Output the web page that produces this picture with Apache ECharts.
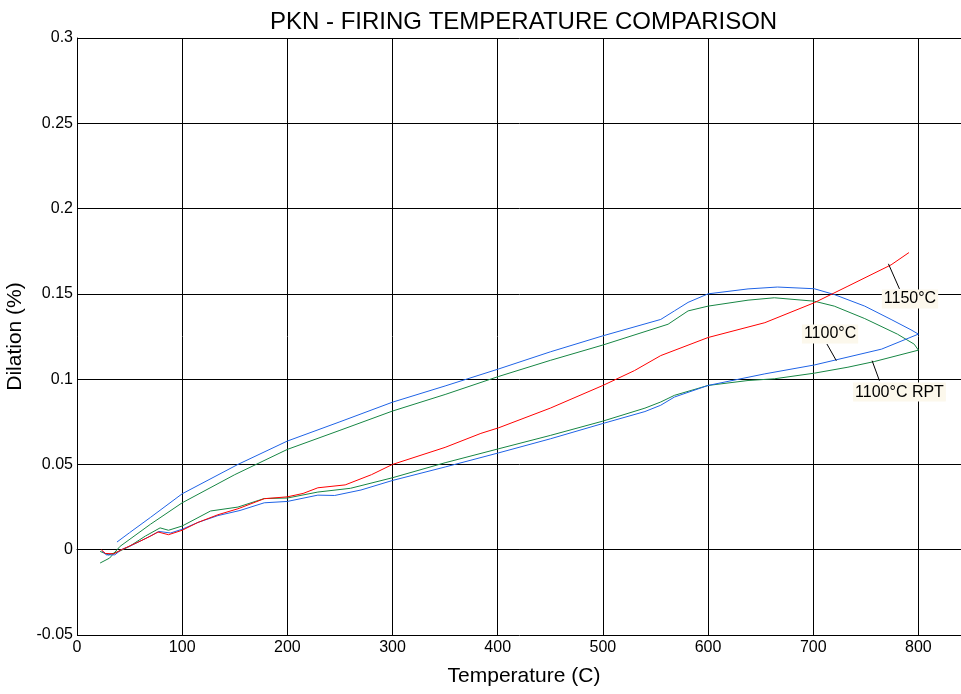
<!DOCTYPE html>
<html>
<head>
<meta charset="utf-8">
<script src="https://cdn.jsdelivr.net/npm/echarts@6/dist/echarts.min.js"></script>
<style>
  html, body { margin: 0; padding: 0; background: #fff; overflow: hidden; }
  #chart { width: 961px; height: 694px; }
</style>
</head>
<body>
<div id="chart"></div>
<script>
// [temperature C, dilation %]
const red1150 = [
  [23, 0], [27, -0.0022], [35, -0.0024], [41, -0.0004], [48, 0.0016], [60, 0.005], [70, 0.008],
  [77, 0.0104], [87, 0.0088], [100, 0.0114], [115, 0.016], [134, 0.0205], [153, 0.024], [170, 0.028],
  [178, 0.0299], [200, 0.031], [215, 0.033], [229, 0.0363], [255, 0.038], [280, 0.044], [300, 0.05],
  [350, 0.06], [384, 0.0682], [401, 0.0715], [450, 0.083], [500, 0.0963], [530, 0.105], [555, 0.1138],
  [600, 0.1244], [654, 0.1331], [701, 0.1448], [733, 0.1545], [774, 0.167], [791, 0.1742]
];
const blueHeat = [
  [24, -0.001], [28, -0.003], [36, -0.003], [42, 0], [50, 0.002], [65, 0.0065], [78, 0.0107],
  [89, 0.0098], [100, 0.012], [115, 0.016], [134, 0.02], [155, 0.023], [178, 0.0275], [200, 0.0283],
  [229, 0.032], [245, 0.0318], [270, 0.035], [300, 0.0406], [350, 0.0485], [401, 0.0568], [450, 0.065],
  [500, 0.074], [540, 0.081], [555, 0.0847], [568, 0.0895], [600, 0.0963], [654, 0.1031], [701, 0.1083],
  [765, 0.1176], [800, 0.1264]
];
const blueCool = [
  [800, 0.1264], [793, 0.1289], [774, 0.135], [749, 0.1428], [720, 0.1496], [701, 0.153], [666, 0.154],
  [638, 0.1529], [600, 0.15], [581, 0.145], [568, 0.14], [555, 0.135], [500, 0.1254], [450, 0.116],
  [401, 0.106], [350, 0.096], [300, 0.0865], [250, 0.075], [200, 0.0637], [153, 0.05], [100, 0.0328],
  [70, 0.019], [50, 0.01], [38, 0.0045]
];
const greenHeat = [
  [22, -0.001], [30, -0.003], [40, -0.001], [50, 0.002], [65, 0.008], [79, 0.0128], [87, 0.0114],
  [100, 0.0139], [127, 0.0227], [153, 0.025], [178, 0.03], [200, 0.0303], [229, 0.0338], [260, 0.036],
  [300, 0.0422], [350, 0.051], [401, 0.0592], [450, 0.067], [500, 0.0754], [540, 0.083], [555, 0.0866],
  [568, 0.0905], [600, 0.0963], [638, 0.0992], [663, 0.1002], [701, 0.1035], [733, 0.107], [758, 0.1103],
  [800, 0.117]
];
const greenCool = [
  [800, 0.1176], [796, 0.1205], [780, 0.1264], [749, 0.1355], [720, 0.1428], [701, 0.1457], [663, 0.1477],
  [638, 0.1463], [600, 0.1428], [581, 0.14], [562, 0.1322], [500, 0.12], [450, 0.111], [401, 0.1016],
  [350, 0.091], [300, 0.0813], [250, 0.07], [200, 0.0588], [150, 0.044], [100, 0.0275], [70, 0.015],
  [41, 0.002], [31, -0.0049], [22, -0.0078]
];

// annotation text, where it sits, and its leader (data coords)
const labelNames = ['1150°C', '1100°C', '1100°C RPT'];
const labelAt = [[792, 0.147], [716, 0.1265], [782, 0.0924]];
const leaderFrom = [[771.5, 0.1676], [722, 0.1108], [756, 0.1108]];
const leaderTo = [[782, 0.1529], [713, 0.1206], [763, 0.099]];

const chart = echarts.init(document.getElementById('chart'));

const font = 'Arial, "Liberation Sans", sans-serif';

function note(i) {
  return {
    markPoint: {
      symbol: 'rect',
      symbolSize: 0,
      silent: true,
      data: [{ name: labelNames[i], coord: labelAt[i] }],
      label: {
        show: true,
        position: 'inside',
        formatter: '{b}',
        color: '#000',
        fontFamily: font,
        fontSize: 16,
        backgroundColor: '#fcf8ec',
        padding: [2, 2, 1, 2]
      }
    },
    markLine: {
      symbol: 'none',
      silent: true,
      label: { show: false },
      lineStyle: { color: '#000', width: 1, type: 'solid' },
      data: [[{ coord: leaderFrom[i] }, { coord: leaderTo[i] }]]
    }
  };
}

function curve(data, color, extra) {
  return Object.assign({
    type: 'line',
    data: data,
    showSymbol: false,
    symbol: 'none',
    lineStyle: { color: color, width: 1 },
    itemStyle: { color: color },
    emphasis: { disabled: true }
  }, extra || {});
}

const blue = '#1f63e6';
const green = '#178644';

const option = {
  animation: false,
  title: {
    text: 'PKN - FIRING TEMPERATURE COMPARISON',
    left: 265,
    top: 5,
    textStyle: { fontFamily: font, fontSize: 24, fontWeight: 'normal', color: '#000' }
  },
  // the plot runs past the right edge of the picture
  grid: {
    show: false, borderWidth: 0,
    left: 77, top: 38, width: 894, height: 597,
    outerBoundsMode: 'none', containLabel: false
  },
  xAxis: {
    type: 'value',
    min: 0,
    max: 850,
    interval: 100,
    name: 'Temperature (C)',
    nameLocation: 'middle',
    nameGap: 31,
    nameTextStyle: { fontFamily: font, fontSize: 21, color: '#000' },
    axisLine: { lineStyle: { color: '#000', width: 1 } },
    axisTick: { show: false },
    axisLabel: { fontFamily: font, fontSize: 16, color: '#000', margin: 5, showMaxLabel: false },
    splitLine: { showMaxLine: false, lineStyle: { color: '#000', width: 1 } }
  },
  yAxis: {
    type: 'value',
    min: -0.05,
    max: 0.3,
    interval: 0.05,
    name: 'Dilation (%)',
    nameLocation: 'middle',
    nameGap: 41,
    nameTextStyle: { fontFamily: font, fontSize: 21, color: '#000' },
    axisLine: { show: true, lineStyle: { color: '#000', width: 1 } },
    axisTick: { show: false },
    axisLabel: { fontFamily: font, fontSize: 16, color: '#000', margin: 4 },
    splitLine: { lineStyle: { color: '#000', width: 1 } }
  },
  series: [
    curve(greenHeat.concat(greenCool), green, note(2)),
    curve(blueHeat.concat(blueCool), blue, note(1)),
    curve(red1150, '#ff0000', note(0))
  ]
};

chart.setOption(option);
</script>
</body>
</html>
